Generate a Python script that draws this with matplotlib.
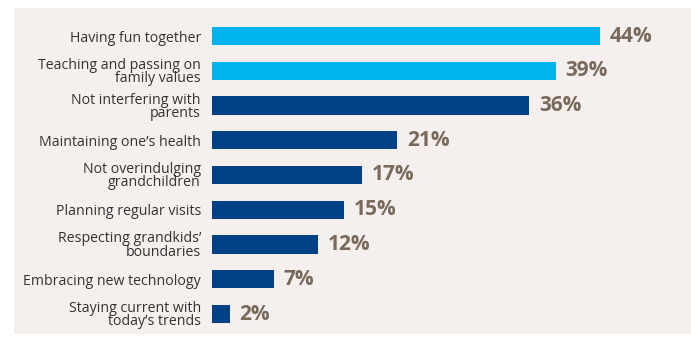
import matplotlib
matplotlib.use("Agg")
import matplotlib.pyplot as plt
from matplotlib.patches import Rectangle

categories = [
    "Having fun together",
    "Teaching and passing on\nfamily values",
    "Not interfering with\nparents",
    "Maintaining one\u2019s health",
    "Not overindulging\ngrandchildren",
    "Planning regular visits",
    "Respecting grandkids\u2019\nboundaries",
    "Embracing new technology",
    "Staying current with\ntoday\u2019s trends",
]
values = [44, 39, 36, 21, 17, 15, 12, 7, 2]
highlight = [True, True, False, False, False, False, False, False, False]

LIGHT = "#00B5EF"
DARK = "#004185"
BG = "#F5F0EE"
LABEL = "#7A6A5C"
TEXT = "#333333"

W, H = 691, 337
fig = plt.figure(figsize=(W / 100, H / 100), dpi=100)
fig.patch.set_facecolor("white")

# background panel, drawn beneath the axes
fig.patches.append(Rectangle((14 / W, 1 - 334 / H), (W - 14) / W, (334 - 8) / H,
                             transform=fig.transFigure, facecolor=BG,
                             edgecolor="none", zorder=-5))

ax_left, ax_right = 212, 691
ax_top, ax_bot = 8, 334
ax = fig.add_axes([ax_left / W, 1 - ax_bot / H, (ax_right - ax_left) / W, (ax_bot - ax_top) / H])
ax.patch.set_visible(False)

ypos = list(range(len(values)))
colors = [LIGHT if h else DARK for h in highlight]
ax.barh(ypos, values, height=0.52, color=colors, edgecolor="none")

ax.set_xlim(0, 44 * (ax_right - ax_left) / 388)
ax.set_ylim(8 + (334 - 314) / 34.75, -28 / 34.75)

for y, v in zip(ypos, values):
    ax.annotate(f"{v}%", xy=(v, y), xytext=(7, 0), textcoords="offset points",
                ha="left", va="center", fontsize=15, fontweight="bold",
                color=LABEL, family="Open Sans")

ax.set_yticks(ypos)
ax.set_yticklabels(categories, fontsize=10.2, color=TEXT, family="Open Sans",
                   linespacing=0.85)
ax.tick_params(axis="y", length=0, pad=8)
ax.set_xticks([])
for s in ax.spines.values():
    s.set_visible(False)

fig.savefig("out.png", dpi=100, facecolor="white")
